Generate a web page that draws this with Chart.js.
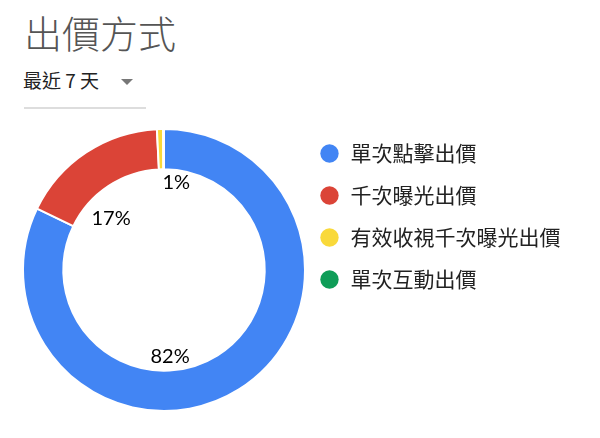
<!DOCTYPE html>
<html>
<head>
<meta charset="utf-8">
<script src="https://cdn.jsdelivr.net/npm/chart.js@4"></script>
<style>
  body { margin: 0; background: #fff; width: 600px; height: 438px; overflow: hidden; position: relative; }
  #title { position: absolute; left: 24px; top: 4px; font: 300 38px "Noto Sans CJK TC"; color: #555; }
  #range { position: absolute; left: 23px; top: 66px; font: 19px "Noto Sans CJK TC"; color: #222; }
  #caret { position: absolute; left: 121px; top: 79px; width: 0; height: 0;
           border-left: 6px solid transparent; border-right: 6px solid transparent; border-top: 6px solid #777; }
  #rule { position: absolute; left: 24px; top: 107px; width: 122px; height: 2px; background: #ddd; }
  #wrap { position: absolute; left: 0; top: 0; width: 600px; height: 438px; }
</style>
</head>
<body>
<div id="title">出價方式</div>
<div id="range">最近 7 天</div>
<div id="caret"></div>
<div id="rule"></div>
<div id="wrap"><canvas id="myChart"></canvas></div>
<script>
const ctx = document.getElementById('myChart');

// bidding types and share of spend (%)
let labels = ['單次點擊出價', '千次曝光出價', '有效收視千次曝光出價', '單次互動出價'];
let shares = [82, 17, 0.7, 0.1];
let shareText = ['82%', '17%', '1%', ''];
let colors = ['#4285f4', '#db4437', '#f9d93a', '#0f9d58'];

// where the percentage notes sit: angle from 12 o'clock (deg), distance as part of the hole radius
const notePlaces = [[176, 0.86], [314, 0.73], [8, 0.88], [0, 0]];

const notesPlugin = {
    id: 'notes',
    afterDatasetsDraw(chart) {
        const meta = chart.getDatasetMeta(0);
        const c = chart.ctx;
        c.save();
        c.font = '20px Lato';
        c.fillStyle = '#000';
        c.textAlign = 'center';
        c.textBaseline = 'middle';
        meta.data.forEach((arc, i) => {
            if (!shareText[i]) return;
            const a = notePlaces[i][0] * Math.PI / 180;
            const r = arc.innerRadius * notePlaces[i][1];
            c.fillText(shareText[i], arc.x + r * Math.sin(a), arc.y - r * Math.cos(a));
        });
        c.restore();
    }
};

const visibleChart = new Chart(ctx, {
    type: 'doughnut',
    data: {
        labels: labels,
        datasets: [{
            data: shares,
            backgroundColor: colors,
            borderColor: '#ffffff',
            borderWidth: 2
        }]
    },
    options: {
        responsive: true,
        maintainAspectRatio: false,
        animation: false,
        radius: 141,
        cutout: 95,
        layout: { padding: { left: 30, right: 34, top: 122, bottom: 20 } },
        plugins: {
            tooltip: { enabled: false },
            legend: {
                position: 'right',
                align: 'start',
                fullSize: false,
                labels: {
                    usePointStyle: true,
                    pointStyle: 'circle',
                    boxWidth: 21,
                    boxHeight: 13,
                    padding: 21,
                    color: '#222',
                    font: { family: '"Noto Sans CJK TC"', size: 21 },
                    generateLabels(chart) {
                        const items = Chart.overrides.doughnut.plugins.legend.labels.generateLabels(chart);
                        items.forEach(it => { it.lineWidth = 0; it.strokeStyle = it.fillStyle; });
                        return items;
                    }
                }
            }
        }
    },
    plugins: [notesPlugin]
});
</script>
</body>
</html>
